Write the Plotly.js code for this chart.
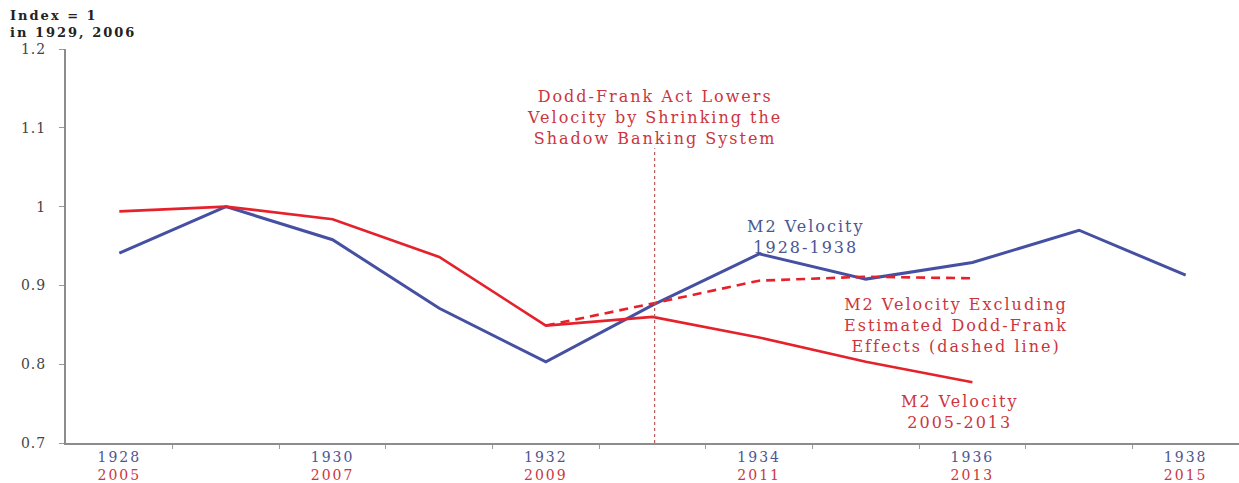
<!DOCTYPE html>
<html>
<head>
<meta charset="utf-8">
<script src="https://cdn.plot.ly/plotly-3.0.1.min.js"></script>
<style>
html,body{margin:0;padding:0;background:#fff;}
#chart{width:1239px;height:483px;}
#chart .annotation-text{letter-spacing:2px;}
#chart .xtick text{letter-spacing:2px;}
#chart .ytick text{letter-spacing:1px;}
</style>
</head>
<body>
<div id="chart"></div>
<script>
// Period positions (1928-1938 calendar)
const years1928 = [1928, 1929, 1930, 1931, 1932, 1933, 1934, 1935, 1936, 1937, 1938];
const velocity1928 = [0.941, 1.000, 0.958, 0.871, 0.803, 0.875, 0.940, 0.908, 0.929, 0.970, 0.913];

// 2005-2013 series, aligned on the same period positions (2005 <-> 1928)
const years2005 = [1928, 1929, 1930, 1931, 1932, 1933, 1934, 1935, 1936];
const velocity2005 = [0.994, 1.000, 0.984, 0.936, 0.849, 0.860, 0.834, 0.803, 0.777];

// Excluding estimated Dodd-Frank effects (2009-2013)
const yearsExDF = [1932, 1933, 1934, 1935, 1936];
const velocityExDF = [0.849, 0.877, 0.906, 0.911, 0.909];

// Tick labels
const tickPositions = [1928, 1930, 1932, 1934, 1936, 1938];
const tickLabelsOld = ['1928', '1930', '1932', '1934', '1936', '1938'];
const tickLabelsNew = ['2005', '2007', '2009', '2011', '2013', '2015'];
const yTicks = [0.7, 0.8, 0.9, 1.0, 1.1, 1.2];
const yTickLabels = ['0.7', '0.8', '0.9', '1', '1.1', '1.2'];

const doddFrankYear = 1933.02;

const BLUE = '#4650a2';
const RED = '#e5212b';
const BLUE_TXT = '#4d5591';
const RED_TXT = '#cc3540';
const FONT = 'DejaVu Serif, Liberation Serif, serif';

const ticktext = tickLabelsOld.map((t, i) =>
  `<span style="color:${BLUE_TXT}">${t}</span><br><span style="color:${RED_TXT}">${tickLabelsNew[i]}</span>`);
const minorTicks = years1928.map(y => y + 0.5);

const traces = [
  {x: years1928, y: velocity1928, type: 'scatter', mode: 'lines',
   line: {color: BLUE, width: 3}, name: 'M2 Velocity 1928-1938', hoverinfo: 'skip'},
  {x: years2005, y: velocity2005, type: 'scatter', mode: 'lines',
   line: {color: RED, width: 2.6}, name: 'M2 Velocity 2005-2013', hoverinfo: 'skip'},
  {x: yearsExDF, y: velocityExDF, type: 'scatter', mode: 'lines',
   line: {color: RED, width: 2.6, dash: '9px,6px'}, name: 'Excluding Dodd-Frank', hoverinfo: 'skip'}
];

function lbl(text, x, y, color) {
  return {text: text, x: x, y: y, xref: 'x', yref: 'y', showarrow: false,
          xanchor: 'center', yanchor: 'middle', align: 'center',
          font: {family: FONT, size: 16, color: color}};
}

const annotations = [
  lbl('Dodd-Frank Act Lowers<br>Velocity by Shrinking the<br>Shadow Banking System', doddFrankYear, 1.1125, RED_TXT),
  lbl('M2 Velocity<br>1928-1938', 1934.44, 0.9615, BLUE_TXT),
  lbl('M2 Velocity Excluding<br>Estimated Dodd-Frank<br>Effects (dashed line)', 1935.85, 0.849, RED_TXT),
  lbl('M2 Velocity<br>2005-2013', 1935.88, 0.7397, RED_TXT),
  {text: 'Index = 1<br>in 1929, 2006', xref: 'paper', yref: 'paper',
   x: -0.0494, y: 1.11, xanchor: 'left', yanchor: 'top', align: 'left', showarrow: false,
   font: {family: FONT, size: 13, color: '#222', weight: 'bold'}}
];

const layout = {
  width: 1239, height: 483,
  margin: {l: 66, r: 0, t: 49, b: 40, pad: 0},
  paper_bgcolor: '#ffffff', plot_bgcolor: '#ffffff',
  showlegend: false,
  xaxis: {
    range: [1927.5, 1938.5], showgrid: false, zeroline: false,
    showline: true, linecolor: '#8c8c8c', linewidth: 2,
    tickmode: 'array', tickvals: tickPositions, ticktext: ticktext,
    ticks: '', ticklabelstandoff: 0,
    tickfont: {family: FONT, size: 14},
    minor: {tickmode: 'array', tickvals: minorTicks, ticks: 'outside', ticklen: 4,
            tickcolor: '#9a9a9a', tickwidth: 1, showgrid: false},
    fixedrange: true
  },
  yaxis: {
    range: [0.7, 1.2], showgrid: false, zeroline: false,
    showline: true, linecolor: '#8c8c8c', linewidth: 2,
    tickmode: 'array', tickvals: yTicks, ticktext: yTickLabels,
    ticks: 'outside', ticklen: 5, tickcolor: '#9a9a9a', tickwidth: 1,
    ticklabelstandoff: 10,
    tickfont: {family: FONT, size: 14, color: '#444'},
    fixedrange: true
  },
  shapes: [
    {type: 'line', xref: 'x', yref: 'y', x0: doddFrankYear, x1: doddFrankYear, y0: 0.7, y1: 1.074,
     line: {color: '#b55a5a', width: 1.2, dash: 'dot'}}
  ],
  annotations: annotations
};

Plotly.newPlot('chart', traces, layout, {displayModeBar: false, staticPlot: true});
</script>
</body>
</html>
